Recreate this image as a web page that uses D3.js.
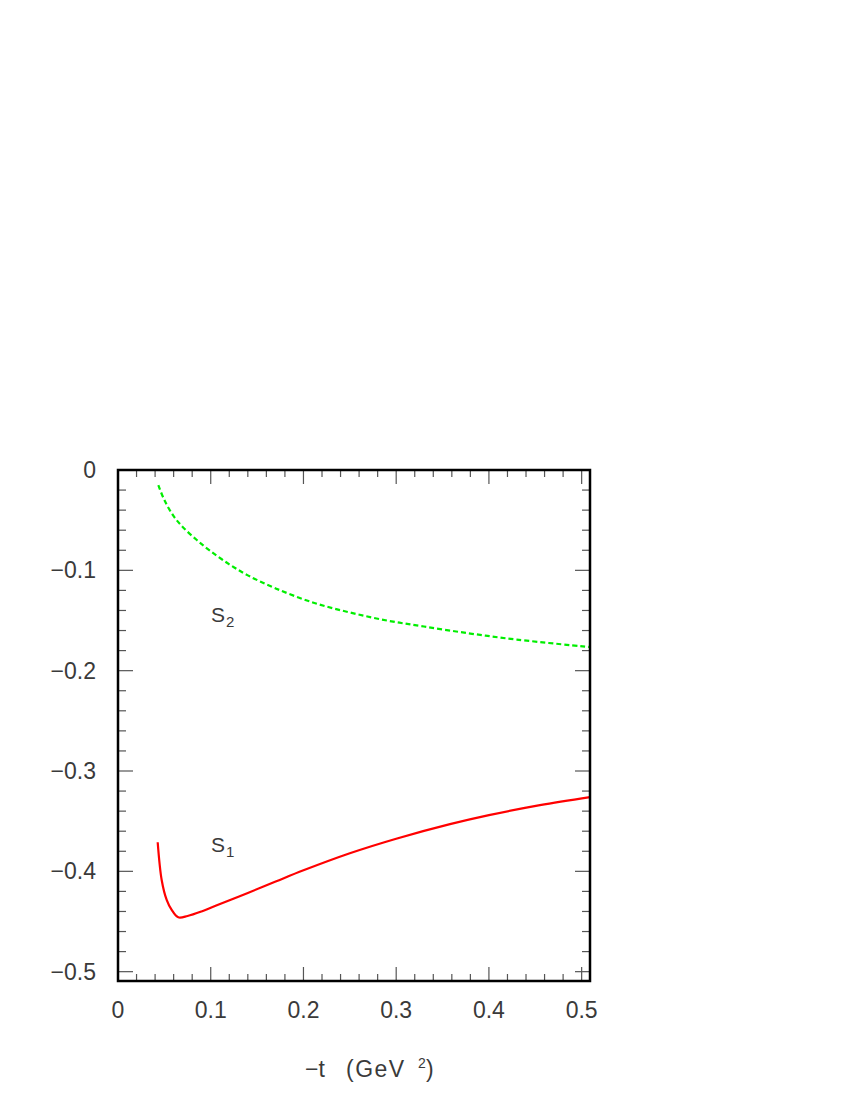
<!DOCTYPE html>
<html><head><meta charset="utf-8">
<script src="https://cdn.jsdelivr.net/npm/d3@7"></script>
<style>body{margin:0;background:#fff}</style>
</head><body>
<script>
// Data
const s2_t = [0.0435,0.05,0.06,0.07,0.085,0.1,0.12,0.14,0.17,0.21,0.25,0.29,0.33,0.38,0.43,0.509];
const s2_v = [-0.015,-0.030,-0.046,-0.057,-0.0698,-0.081,-0.094,-0.105,-0.118,-0.132,-0.142,-0.150,-0.156,-0.163,-0.169,-0.1765];
const s1_t = [0.0428,0.0471,0.0525,0.0579,0.065,0.075,0.09,0.11,0.14,0.17,0.2,0.25,0.3,0.358,0.4,0.455,0.509];
const s1_v = [-0.371,-0.4086,-0.4285,-0.4385,-0.4458,-0.4445,-0.440,-0.4325,-0.4215,-0.4102,-0.3990,-0.3820,-0.3675,-0.353,-0.344,-0.334,-0.326];
const xTicks = [0,0.1,0.2,0.3,0.4,0.5];
const xTickLabels = ["0","0.1","0.2","0.3","0.4","0.5"];
const yTicks = [0,-0.1,-0.2,-0.3,-0.4,-0.5];
const yTickLabels = ["0","\u22120.1","\u22120.2","\u22120.3","\u22120.4","\u22120.5"];

const W=850,H=1100;
const L=118,R=590,T=470,B=981;
const svg=d3.select("body").append("svg").attr("width",W).attr("height",H);
const x=d3.scaleLinear().domain([0,0.509]).range([L,R]);
const y=d3.scaleLinear().domain([-0.5093,0]).range([B,T]);
const font="'Liberation Sans', Arial, sans-serif";
const tc="#555";
const txt="#3a3a3a";

// minor/major ticks on all four sides
const minorX=d3.range(0,26).map(i=>i*0.02);
const minorY=d3.range(0,26).map(i=>-i*0.02);
const g=svg.append("g").attr("stroke",tc).attr("stroke-width",1.2);
minorX.forEach(v=>{
  const major=Math.abs(v*10-Math.round(v*10))<1e-6;
  const len=major?14:7;
  const px=x(v);
  g.append("line").attr("x1",px).attr("x2",px).attr("y1",B).attr("y2",B-len);
  g.append("line").attr("x1",px).attr("x2",px).attr("y1",T).attr("y2",T+len);
});
minorY.forEach(v=>{
  const major=Math.abs(v*10-Math.round(v*10))<1e-6;
  const len=major?15:8;
  const py=y(v);
  g.append("line").attr("x1",L).attr("x2",L+len).attr("y1",py).attr("y2",py);
  g.append("line").attr("x1",R).attr("x2",R-len).attr("y1",py).attr("y2",py);
});

// curves
const s2=s2_t.map((t,i)=>[x(t),y(s2_v[i])]);
const s1pts=s1_t.map((t,i)=>[x(t),y(s1_v[i])]);
svg.append("path").attr("d",d3.line().curve(d3.curveCatmullRom.alpha(0.5))(s2)).attr("fill","none").attr("stroke","#00ee00")
  .attr("stroke-width",2.2).attr("stroke-dasharray","5,3");
svg.append("path").attr("d",d3.line().curve(d3.curveCatmullRom.alpha(0.5))(s1pts)).attr("fill","none").attr("stroke","#ff0000")
  .attr("stroke-width",2.2);

// frame
svg.append("rect").attr("x",L).attr("y",T).attr("width",R-L).attr("height",B-T)
  .attr("fill","none").attr("stroke","#000").attr("stroke-width",2.5);

// tick labels
svg.selectAll("text.xl").data(xTicks).enter().append("text")
  .attr("x",d=>x(d)).attr("y",1018).attr("text-anchor","middle")
  .attr("font-family",font).attr("font-size",23).attr("fill",txt)
  .text((d,i)=>xTickLabels[i]);
svg.selectAll("text.yl").data(yTicks).enter().append("text")
  .attr("x",96).attr("y",d=>y(d)+8).attr("text-anchor","end")
  .attr("font-family",font).attr("font-size",23).attr("fill",txt)
  .text((d,i)=>yTickLabels[i]);

// axis title
const tt=svg.append("text").attr("y",1077)
  .attr("font-family",font).attr("font-size",23).attr("fill",txt);
tt.append("tspan").attr("x",305).text("\u2212t");
tt.append("tspan").attr("x",346).attr("letter-spacing",1.5).text("(GeV");
tt.append("tspan").attr("x",418).attr("y",1068).attr("font-size",14).text("2");
tt.append("tspan").attr("x",426).attr("y",1077).text(")");

// curve labels
function lab(px,py,sub){
  const t=svg.append("text").attr("x",px).attr("y",py).attr("font-family",font)
    .attr("font-size",21).attr("fill",txt);
  t.append("tspan").text("S");
  t.append("tspan").attr("font-size",15).attr("dy",5).attr("dx",1).text(sub);
}
lab(211,622,"2");
lab(211,852,"1");
</script>
</body></html>
